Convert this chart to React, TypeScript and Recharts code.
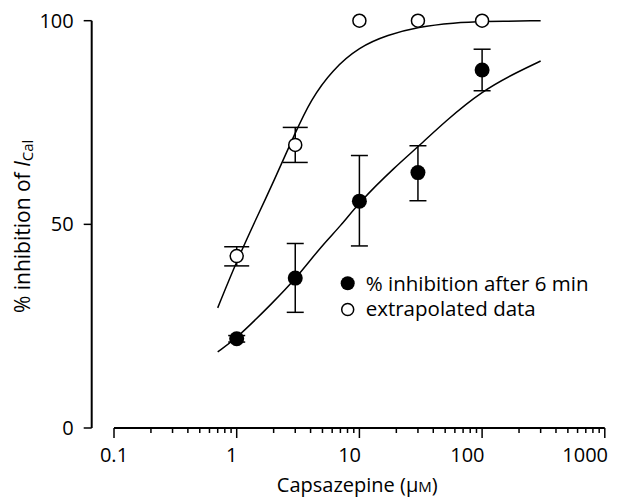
import React from 'react';
import { ComposedChart, Line, Scatter, XAxis, YAxis, ErrorBar, Label, ReferenceLine } from 'recharts';

// measured concentrations (µM)
const concentrations = [1, 3, 10, 30, 100];

// % inhibition after 6 min (filled circles) + error bar ends
const inhibition6min = [21.9, 36.8, 55.7, 62.7, 87.9];
const inhibition6minLow = [21.1, 28.4, 44.7, 55.8, 82.8];
const inhibition6minHigh = [22.7, 45.3, 66.9, 69.3, 93.0];

// extrapolated data (open circles) + error bar ends
const extrapolated = [42.2, 69.5, 100, 100, 100];
const extrapolatedLow = [39.8, 65.2, null, null, null];
const extrapolatedHigh = [44.5, 73.8, null, null, null];

// fitted curves
const extrapFitX = [0.7, 1, 1.5, 2, 3, 4, 6, 10, 17, 30, 60, 100, 300];
const extrapFitY = [29.5, 41, 52.5, 60.5, 72.5, 80.5, 87.9, 93.6, 96.5, 98.5, 99.5, 99.8, 100];
const inhibFitX = [0.7, 1, 2, 3, 5, 7, 10, 20, 30, 50, 100, 200, 300];
const inhibFitY = [18.7, 22, 31, 36.5, 45, 49.5, 55.5, 64.4, 69, 75.3, 82.8, 87.6, 90.1];

const majorTicks = [0.1, 1, 10, 100, 1000];
const minorTicks = [
  0.2, 0.3, 0.4, 0.5, 0.6, 0.7, 0.8, 0.9,
  2, 3, 4, 5, 6, 7, 8, 9,
  20, 30, 40, 50, 60, 70, 80, 90,
  200, 300, 400, 500, 600, 700, 800, 900,
];
const yTicks = [0, 50, 100];

const FONT = '"Open Sans", "Liberation Sans", sans-serif';

const errPair = (y: number, lo: number | null, hi: number | null) =>
  lo == null || hi == null ? undefined : [y - lo, hi - y];

const filledData = concentrations.map((x, i) => ({
  x,
  y: inhibition6min[i],
  err: errPair(inhibition6min[i], inhibition6minLow[i], inhibition6minHigh[i]),
}));
const openData = concentrations.map((x, i) => ({
  x,
  y: extrapolated[i],
  err: errPair(extrapolated[i], extrapolatedLow[i], extrapolatedHigh[i]),
}));
const extrapFit = extrapFitX.map((x, i) => ({ x, y: extrapFitY[i] }));
const inhibFit = inhibFitX.map((x, i) => ({ x, y: inhibFitY[i] }));
const allTicks = [...majorTicks, ...minorTicks].sort((a, b) => a - b);

const XTick = (props: any) => {
  const { x, y, payload } = props;
  const v = payload.value;
  const major = majorTicks.includes(v);
  // labels in the original sit slightly left of their ticks
  const labelX = x - (x - 114) * 0.04;
  return (
    <g>
      <line x1={x} y1={y} x2={x} y2={y + (major ? 10 : 5)} stroke="#000" strokeWidth={1.5} />
      {major && (
        <text x={labelX} y={y + 20} dy="0.71em" textAnchor="middle" fontSize={20} fontFamily={FONT} fill="#000">
          {String(v)}
        </text>
      )}
    </g>
  );
};

const YLabel = (props: any) => {
  const vb = props.viewBox || { y: 20, height: 408 };
  const cx = 22;
  const cy = vb.y + vb.height / 2 + 2;
  return (
    <text
      x={cx}
      y={cy}
      transform={`rotate(-90 ${cx} ${cy})`}
      textAnchor="middle"
      dominantBaseline="central"
      fontSize={21}
      fontFamily={FONT}
      fill="#000"
    >
      % inhibition of{' '}
      <tspan fontStyle="italic">I</tspan>
      <tspan fontSize={15} dy={5}>Cal</tspan>
    </text>
  );
};

const XLabel = (props: any) => {
  const vb = props.viewBox || { x: 92, y: 428, width: 513 };
  const cx = vb.x + vb.width / 2 + 9;
  return (
    <text x={cx} y={vb.y + 64} textAnchor="middle" fontSize={20} fontFamily={FONT} fill="#000">
      Capsazepine (μ<tspan fontSize={15}>M</tspan>)
    </text>
  );
};

const filledDot = (p: any) => <circle cx={p.cx} cy={p.cy} r={7.5} fill="#000" />;
const openDot = (p: any) => <circle cx={p.cx} cy={p.cy} r={6.5} fill="#fff" stroke="#000" strokeWidth={1.5} />;

export default function App() {
  return (
    <div style={{ position: 'absolute', left: 0, top: 0, width: 624, height: 499, background: '#fff' }}>
      <ComposedChart width={624} height={499} margin={{ top: 20.7, right: 19.2, bottom: 0, left: 0 }}>
        <XAxis
          type="number"
          dataKey="x"
          scale="log"
          domain={[0.0658, 1000]}
          allowDataOverflow
          ticks={allTicks}
          interval={0}
          tick={<XTick />}
          tickLine={false}
          axisLine={false}
          tickSize={0}
          tickMargin={0}
          height={71}
        >
          <Label content={<XLabel />} />
        </XAxis>
        <YAxis
          type="number"
          dataKey="y"
          domain={[0, 100]}
          ticks={yTicks}
          width={91.7}
          tickSize={8}
          tickMargin={10}
          axisLine={{ stroke: '#000', strokeWidth: 2 }}
          tickLine={{ stroke: '#000', strokeWidth: 1.5 }}
          tick={{ fill: '#000', fontSize: 20, fontFamily: FONT }}
        >
          <Label content={<YLabel />} />
        </YAxis>
        <ReferenceLine
          segment={[{ x: 0.1, y: 0 }, { x: 1000, y: 0 }]}
          stroke="#000"
          strokeWidth={2}
          ifOverflow="visible"
        />
        <Scatter data={filledData} dataKey="y" shape={filledDot} isAnimationActive={false}>
          <ErrorBar dataKey="err" direction="y" width={8.5} stroke="#000" strokeWidth={1.5} />
        </Scatter>
        <Scatter data={openData} dataKey="y" shape={openDot} isAnimationActive={false}>
          <ErrorBar dataKey="err" direction="y" width={12.5} stroke="#000" strokeWidth={1.5} />
        </Scatter>
        <Line data={extrapFit} dataKey="y" type="basis" stroke="#000" strokeWidth={1.5} dot={false} isAnimationActive={false} />
        <Line data={inhibFit} dataKey="y" type="basis" stroke="#000" strokeWidth={1.5} dot={false} isAnimationActive={false} />
      </ComposedChart>
      <svg width={624} height={499} style={{ position: 'absolute', left: 0, top: 0, pointerEvents: 'none' }}>
        <circle cx={347.7} cy={283.3} r={7} fill="#000" />
        <text x={365.7} y={291.2} fontSize={20.5} fontFamily={FONT} fill="#000">
          % inhibition after 6 min
        </text>
        <circle cx={347.7} cy={309.5} r={6} fill="#fff" stroke="#000" strokeWidth={1.5} />
        <text x={365.7} y={315.5} fontSize={20.5} fontFamily={FONT} fill="#000">
          extrapolated data
        </text>
      </svg>
    </div>
  );
}
